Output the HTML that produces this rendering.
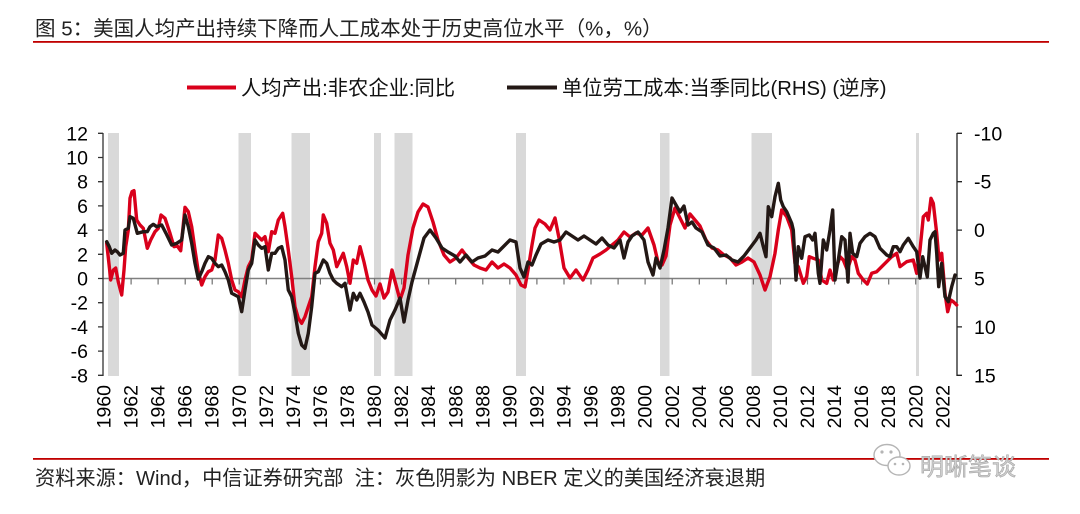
<!DOCTYPE html>
<html>
<head>
<meta charset="utf-8">
<style>
  html, body { margin: 0; padding: 0; background: #ffffff; }
  body { width: 1080px; height: 514px; overflow: hidden; }
  svg { display: block; }
  .t { font-family: "Liberation Sans", "Noto Sans CJK SC", sans-serif; }
</style>
</head>
<body>
<svg width="1080" height="514" viewBox="0 0 1080 514" xmlns="http://www.w3.org/2000/svg">
  <rect x="0" y="0" width="1080" height="514" fill="#ffffff"/>

  <!-- Title -->
  <text class="t" x="35" y="35.5" font-size="20.5" fill="#222">图 5：美国人均产出持续下降而人工成本处于历史高位水平（%，%）</text>
  <rect x="33" y="41" width="1016" height="1.8" fill="#c00000"/>

  <!-- Legend -->
  <line x1="187" y1="87.5" x2="236" y2="87.5" stroke="#d9001b" stroke-width="4"/>
  <text class="t" x="241" y="95" font-size="20.3" fill="#111">人均产出:非农企业:同比</text>
  <line x1="507" y1="87.5" x2="557" y2="87.5" stroke="#231815" stroke-width="4"/>
  <text class="t" x="562" y="95" font-size="20.3" fill="#111">单位劳工成本:当季同比(RHS) (逆序)</text>

  <!-- Recession shading -->
  <g fill="#d9d9d9">
    <rect x="108" y="133" width="11" height="243"/>
    <rect x="238.5" y="133" width="12.5" height="243"/>
    <rect x="291.5" y="133" width="18.5" height="243"/>
    <rect x="374" y="133" width="7" height="243"/>
    <rect x="394.5" y="133" width="18" height="243"/>
    <rect x="516" y="133" width="10" height="243"/>
    <rect x="660" y="133" width="9.5" height="243"/>
    <rect x="751.5" y="133" width="20.5" height="243"/>
    <rect x="916" y="133" width="3" height="243"/>
  </g>

  <!-- Zero line and category ticks -->
  <line x1="103" y1="278.5" x2="957" y2="278.5" stroke="#808080" stroke-width="1.5"/>
  <path d="M131.1 278.5v6 M158.1 278.5v6 M185.2 278.5v6 M212.2 278.5v6 M239.2 278.5v6 M266.3 278.5v6 M293.4 278.5v6 M320.4 278.5v6 M347.5 278.5v6 M374.5 278.5v6 M401.6 278.5v6 M428.7 278.5v6 M455.7 278.5v6 M482.8 278.5v6 M509.8 278.5v6 M536.9 278.5v6 M564.0 278.5v6 M591.0 278.5v6 M618.1 278.5v6 M645.1 278.5v6 M672.2 278.5v6 M699.3 278.5v6 M726.3 278.5v6 M753.4 278.5v6 M780.4 278.5v6 M807.5 278.5v6 M834.6 278.5v6 M861.6 278.5v6 M888.7 278.5v6 M915.7 278.5v6" stroke="#707070" stroke-width="1.2" fill="none"/>

  <!-- Left axis -->
  <line x1="103" y1="133" x2="103" y2="376" stroke="#333" stroke-width="1.3"/>
  <path d="M98 133.3h5 M98 157.5h5 M98 181.7h5 M98 205.9h5 M98 230.1h5 M98 254.3h5 M98 278.5h5 M98 302.7h5 M98 326.9h5 M98 351.1h5 M98 375.3h5" stroke="#333" stroke-width="1.3"/>
  <g class="t" font-size="19.5" fill="#000" text-anchor="end">
    <text x="88" y="140.3">12</text>
    <text x="88" y="164.5">10</text>
    <text x="88" y="188.7">8</text>
    <text x="88" y="212.9">6</text>
    <text x="88" y="237.1">4</text>
    <text x="88" y="261.3">2</text>
    <text x="88" y="285.5">0</text>
    <text x="88" y="309.7">-2</text>
    <text x="88" y="333.9">-4</text>
    <text x="88" y="358.1">-6</text>
    <text x="88" y="382.3">-8</text>
  </g>

  <!-- Right axis -->
  <line x1="957" y1="133" x2="957" y2="376" stroke="#222" stroke-width="1.3"/>
  <path d="M957 133.3h5 M957 181.7h5 M957 230.1h5 M957 278.5h5 M957 326.9h5 M957 375.3h5" stroke="#222" stroke-width="1.3"/>
  <g class="t" font-size="19.5" fill="#000">
    <text x="974" y="140.3">-10</text>
    <text x="974" y="188.7">-5</text>
    <text x="974" y="237.1">0</text>
    <text x="974" y="285.5">5</text>
    <text x="974" y="333.9">10</text>
    <text x="974" y="382.3">15</text>
  </g>

  <!-- X axis labels (rotated) -->
  <g class="t" font-size="19.5" fill="#000" text-anchor="end">
    <text transform="translate(110.5,385) rotate(-90)">1960</text>
    <text transform="translate(137.6,385) rotate(-90)">1962</text>
    <text transform="translate(164.6,385) rotate(-90)">1964</text>
    <text transform="translate(191.7,385) rotate(-90)">1966</text>
    <text transform="translate(218.7,385) rotate(-90)">1968</text>
    <text transform="translate(245.8,385) rotate(-90)">1970</text>
    <text transform="translate(272.9,385) rotate(-90)">1972</text>
    <text transform="translate(299.9,385) rotate(-90)">1974</text>
    <text transform="translate(327.0,385) rotate(-90)">1976</text>
    <text transform="translate(354.0,385) rotate(-90)">1978</text>
    <text transform="translate(381.1,385) rotate(-90)">1980</text>
    <text transform="translate(408.2,385) rotate(-90)">1982</text>
    <text transform="translate(435.2,385) rotate(-90)">1984</text>
    <text transform="translate(462.3,385) rotate(-90)">1986</text>
    <text transform="translate(489.3,385) rotate(-90)">1988</text>
    <text transform="translate(516.4,385) rotate(-90)">1990</text>
    <text transform="translate(543.5,385) rotate(-90)">1992</text>
    <text transform="translate(570.5,385) rotate(-90)">1994</text>
    <text transform="translate(597.6,385) rotate(-90)">1996</text>
    <text transform="translate(624.6,385) rotate(-90)">1998</text>
    <text transform="translate(651.7,385) rotate(-90)">2000</text>
    <text transform="translate(678.8,385) rotate(-90)">2002</text>
    <text transform="translate(705.8,385) rotate(-90)">2004</text>
    <text transform="translate(732.9,385) rotate(-90)">2006</text>
    <text transform="translate(759.9,385) rotate(-90)">2008</text>
    <text transform="translate(787.0,385) rotate(-90)">2010</text>
    <text transform="translate(814.1,385) rotate(-90)">2012</text>
    <text transform="translate(841.1,385) rotate(-90)">2014</text>
    <text transform="translate(868.2,385) rotate(-90)">2016</text>
    <text transform="translate(895.2,385) rotate(-90)">2018</text>
    <text transform="translate(922.3,385) rotate(-90)">2020</text>
    <text transform="translate(949.4,385) rotate(-90)">2022</text>
  </g>

  <!-- Red series: productivity YoY (left axis) -->
  <polyline fill="none" stroke="#d9001b" stroke-width="3.4" stroke-linejoin="round" stroke-linecap="round" points="
106.7,243.3 109.3,266.7 110.7,280 113.3,270 115.7,268 118.3,282 121.7,295 124,270 125.7,246.7 128.3,230 130,198.3 132,191.7 134,190.7 136.7,220 140,225 143.3,228.3 147.3,248.3 150.7,240 155,231.7 158.3,228.3 161,215 165,218.3 170,233.3 174,246.7 177.3,246 180.7,250.7 185,207.3 188.3,211.7 191.7,226.7 195,250 198.3,271.7 201.7,285 205,276.7 208.3,271.7 211.7,270 215,260 218.3,235 221.7,238.3 225,250 228.3,263.3 231.7,280 235,290 238.3,291.7 241.7,296.7 245,280 248.3,266.7 251.7,260 255,233.3 258.3,236.7 261.7,240 265,236.7 268.3,251.7 271.7,231.7 275,233.3 278.3,220 282.7,213.3 285,226.7 288.3,250 291.7,276.7 295,306.7 298.3,318.3 301.7,323.3 305,316.7 308.3,306.7 311.7,296.7 315,266.7 318.3,241.7 321.7,233.3 323.3,215 326.7,223.3 330,243.3 333.3,250 336.7,266.7 340,260 343.3,253.3 346.7,266.7 350,283.3 353.3,260 356.7,263.3 360,246.7 364,262 368,280 372,290 376,296 380,284 384,298 388,292 392,270 396,285 400,300 404,288 408,255 413,228 418,212 423,204 428,207 433,222 438,240 444,255 450,262 456,258 462,250 468,258 474,265 480,268 486,270 492,262 498,268 504,264 510,268 516,275 521,285 525,287 528,270 532,245 535,228 539,220 545,224 550,230 555,218 559,238 564,268 570,278 576,270 583,280 588,270 593,258 600,254 606,250 612,245 618,240 624,232 630,237 636,233 642,235 648,228 654,245 658,262 662,265 666,256 670,225 675,208 680,218 685,228 690,214 695,220 700,226 706,240 712,248 718,250 724,255 730,258 736,265 742,262 748,258 754,262 760,275 765,290 770,276.7 775,253.3 778.3,230 781.7,210 786.7,216.7 791.7,230 795,263.3 798.3,266.7 803.3,283.3 806.7,276.7 809.3,256.7 813.3,258.3 818.3,260 821.7,280 826.7,283.3 830,270 833.3,280 836.7,266.7 840,256.7 843.3,260 847.3,270 851.7,256.7 855,260 858.3,273.3 863.3,280 867.3,284 871.7,273.3 876.7,271.7 881.7,266.7 886.7,261.7 891.7,256.7 896.7,253.3 900,266.7 906.7,261.7 913.3,260 916.7,273.3 920,250 923.3,216.7 926.7,213.3 928.3,220 931,198.3 933.3,203.3 936.7,233.3 939,260 941.7,253.3 945,293.3 947.7,311.7 950.7,300 953.3,301.7 956.7,305"/>

  <!-- Black series: unit labor cost YoY (right axis, inverted) -->
  <polyline fill="none" stroke="#231815" stroke-width="3.4" stroke-linejoin="round" stroke-linecap="round" points="
106.7,241.7 109.3,246.7 111.7,253.3 115,250 117.3,251.7 120,255 123.3,253.3 125,230 128.3,228.3 130,216.7 133.3,218.3 137.3,233.3 143.3,231.7 147.3,231.7 150,226.7 153.3,224.3 156.7,226.7 161.7,225 166,233.3 171.7,245 176.7,243.3 181.7,240 185,215 188.3,226.7 191.7,243.3 195,263.3 198.3,279 201.7,271.7 205,263.3 208.3,256.7 211.7,258.3 215,263.3 218.3,266.7 221.7,265 225,271.7 228.3,280 231.7,293.3 235,295 238.3,296.7 241.7,311.7 245,290 248.3,270 251.7,263.3 255,240 258.3,245 261.7,248.3 265,246.7 268.3,270 271.7,253.3 275,253.3 278.3,248.3 281.7,246.7 285,260 288.3,290 291.7,296.7 295,313.3 298.3,333.3 301.7,345 305,348.3 308.3,333.3 311.7,306.7 315,273.3 318.3,271.7 323.3,260 326.7,263.3 330,273.3 333.3,280 336.7,283.3 341.7,286.7 345,283.3 350,310 353.3,293.3 356.7,300 360,293.3 364,302 368,312 372,325 378,330 385,338 390,320 395,310 400,298 404,322 408,300 412,282 418,260 424,238 430,230 436,238 442,248 448,252 455,256 460,262 466,255 472,262 478,258 485,256 492,250 498,252 504,246 510,240 516,242 520,268 524,277 528,262 532,265 536,255 541,244 548,240 554,242 560,240 566,232 572,236 578,240 584,236 590,240 596,244 602,238 608,245 614,248 620,240 624,258 628,242 632,236 638,232 644,240 648,262 653,275 656,258 660,268 664,250 668,228 672,198 676,205 680,212 684,206 688,225 692,222 696,228 702,232 708,245 714,248 720,256 726,255 732,260 738,262 744,256 750,248 756,240 760,233.3 763.3,246.7 766,256.7 768.3,206.7 771.7,216.7 775,196.7 778.3,183.3 780.7,200 783.3,206.7 786.7,211.7 791.7,223.3 793.3,230 796,280 798.3,246.7 801.7,258.3 805,236.7 809.3,235 812.7,240 815,233.3 818.3,273.3 820,283.3 823.3,240 826.7,250 830,230 832.7,210 835,280 838.3,260 841.7,236.7 845,240 848,282 850,233.3 852.7,253.3 856.7,256.7 860,243.3 865,236.7 870,233.3 875,236.7 880,248.3 886.7,255 890,256.7 893.3,246.7 896.7,246.7 900,251.7 903.3,245 908.3,238.3 913.3,246.7 916.7,251.7 920,278 922.7,256.7 925,266.7 927.3,277 930,240 933.3,233.3 935,231.7 936.7,253.3 938.7,286.7 941.7,263.3 945,296.7 948.3,301.7 951.7,286.7 955,275"/>

  <!-- Bottom rule and source -->
  <rect x="33" y="458" width="1016" height="1.8" fill="#c00000"/>
  <text class="t" x="35" y="485" font-size="20.2" fill="#222" style="white-space:pre">资料来源：Wind，中信证券研究部  注：灰色阴影为 NBER 定义的美国经济衰退期</text>

  <!-- Watermark -->
  <g fill="#ffffff" stroke="#b5b5b5" stroke-width="1.4">
    <ellipse cx="887" cy="455" rx="13" ry="10.5"/>
    <ellipse cx="899" cy="466" rx="11" ry="9"/>
  </g>
  <g fill="#b5b5b5">
    <circle cx="882" cy="452" r="1.6"/>
    <circle cx="891" cy="452" r="1.6"/>
    <circle cx="895" cy="464" r="1.3"/>
    <circle cx="903" cy="464" r="1.3"/>
  </g>
  <text class="t" x="920" y="475" font-size="24" fill="#d0d0d0" stroke="#a5a5a5" stroke-width="0.6">明晰笔谈</text>
</svg>
</body>
</html>
